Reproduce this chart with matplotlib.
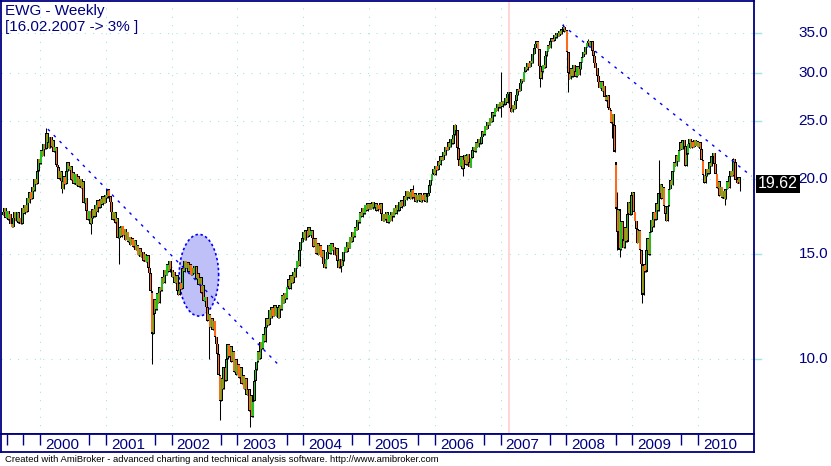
import numpy as np
import pandas as pd
import matplotlib
matplotlib.use("Agg")
import matplotlib.pyplot as plt
from matplotlib import transforms
from matplotlib.patches import Rectangle

# %% DATA - weekly closes of EWG, Fridays from 11.06.1999

c1999 = [17.6, 17.9, 17.2, 17.7, 17.1, 17.5, 16.8, 16.6, 17.2, 17.6,
         17.0, 17.6, 16.9, 17.2, 16.8, 17.9, 17.5, 18.1, 17.6, 18.6,
         18.2, 19.0, 18.5, 19.4, 19.1, 20.0, 19.6, 20.6, 21.6, 21.2]
c2000 = [22.3, 21.8, 22.9, 22.4, 23.8, 23.0, 22.5, 23.5, 22.6, 23.2,
         22.2, 22.6, 21.1, 20.9, 20.0, 20.6, 19.8, 19.2, 20.2, 19.6,
         20.6, 21.3, 20.7, 21.0, 19.9, 20.5, 19.6, 20.4, 19.5, 20.2,
         19.4, 20.0, 19.3, 19.8, 18.2, 18.6, 17.7, 17.1, 17.7, 16.8,
         17.2, 17.8, 17.3, 18.1, 17.6, 18.4, 17.9, 18.5, 18.1, 18.7,
         18.2, 18.8]
c2001 = [18.6, 19.2, 18.7, 18.3, 17.6, 17.1, 17.6, 16.9,
         17.2, 15.9, 16.6, 16.0, 16.7, 16.1, 16.5, 15.8, 16.3, 15.7,
         16.0, 15.5, 15.9, 15.4, 15.8, 15.2, 15.5, 14.9, 15.3, 14.8,
         15.1, 14.6, 15.0, 14.5, 14.9, 14.2, 13.9, 13.0, 11.0, 11.9,
         12.6, 12.1, 12.9, 12.4, 13.2, 13.0, 13.7, 13.4, 14.1, 13.8,
         14.4, 14.0, 14.6, 14.1]
c2002 = [13.7, 14.0, 13.4, 13.8, 13.0, 12.8,
         13.4, 13.1, 14.2, 14.0, 14.6, 14.2, 14.5, 14.0, 14.4, 13.8,
         14.2, 13.9, 14.3, 13.6, 13.9, 13.3, 13.7, 12.9, 13.3, 12.5,
         12.7, 12.2, 11.6, 11.9, 11.3, 11.7, 11.2, 11.6, 10.9, 10.6,
         10.2, 9.4, 8.5, 9.3, 8.9, 9.7, 9.2, 10.0, 10.6, 10.1,
         10.5, 9.9, 10.3, 9.5, 10.0, 9.4]
c2003 = [9.8, 9.3, 9.7, 9.1, 9.4, 8.9, 9.3, 8.7, 8.9, 8.2,
         8.7, 8.0, 8.5, 9.2, 9.6, 9.9, 10.3, 10.0, 10.7, 10.4,
         11.0, 10.7, 11.3, 11.7, 11.4, 12.1, 11.7, 12.2, 11.8, 12.3,
         11.8, 12.2, 11.7, 12.3, 12.1, 12.8, 12.4, 12.9, 12.6, 13.2,
         13.6, 13.1, 13.8, 13.4, 14.0, 13.7, 14.2, 14.6, 14.3, 15.2,
         15.7, 15.9]
c2004 = [16.3, 15.8, 16.4, 16.0, 16.6, 16.1, 16.4, 15.9,
         15.4, 15.9, 15.0, 15.6, 14.9, 15.5, 14.8, 15.2,
         14.4, 14.2, 14.7, 15.1,
         15.5, 15.0, 15.6, 15.2, 15.4, 14.9, 15.3,
         14.6, 14.2, 14.7, 14.3, 14.6, 15.1,
         15.4, 15.1, 15.7, 15.3, 16.0, 15.7, 16.3, 16.0, 16.6, 16.4,
         17.1, 16.9, 17.6, 17.3, 17.9, 17.5, 18.1, 17.7,
         18.2, 17.8]
c2005 = [18.2, 17.8, 18.3, 17.9, 18.2, 17.7, 18.1, 17.8, 18.2, 17.5,
         17.0, 17.5, 17.1, 17.6, 16.9, 17.4, 17.0, 17.6, 17.3, 17.9,
         17.5, 18.1, 17.7, 18.3, 17.9, 18.4, 18.0, 18.7, 18.4, 19.1,
         18.6, 19.0, 18.5, 19.2, 18.6, 18.9, 18.3, 18.8, 18.4, 18.9,
         18.3, 18.8, 18.4, 18.9, 18.3, 18.7, 18.9, 19.5, 19.9, 20.4,
         20.8, 20.3]
c2006 = [21.0, 20.7, 21.4, 21.1, 21.8, 21.5, 22.2, 21.9, 22.6, 22.3,
         23.0, 22.6, 23.3, 22.9, 23.7, 24.6, 24.1, 22.5, 21.5, 21.0,
         21.8, 20.8, 21.5, 21.9, 21.1, 22.0, 21.3, 20.9, 21.7, 22.3,
         22.6, 22.2, 23.0, 22.6, 23.3, 22.9, 23.5, 24.0, 23.7, 24.5,
         24.2, 24.9, 24.6, 25.3, 24.9, 25.8, 25.5, 26.3, 25.9, 26.7,
         26.3, 26.9]
c2007 = [26.4, 27.0, 26.6, 27.3, 26.8, 27.7, 27.9, 26.2, 25.8, 26.6,
         26.1, 27.0, 27.6, 28.2, 28.0, 28.9, 29.4, 29.1, 30.2, 30.7,
         30.4, 31.2, 30.7, 31.5, 31.2, 32.3, 33.0, 33.6, 33.9, 32.9,
         30.8, 29.4, 30.2, 31.0, 30.6, 32.1, 32.7, 33.4, 33.0, 33.9,
         34.3, 34.0, 34.8, 34.4, 35.0, 34.6, 35.3, 34.9, 35.5, 35.8,
         35.2, 35.4]
c2008 = [32.6, 30.0, 29.3, 30.6, 29.6, 31.0, 30.2, 29.6, 30.8, 29.8,
         30.5, 31.3, 31.9, 32.6, 32.3, 33.2, 33.7, 34.0, 33.3, 33.9,
         32.7, 32.1, 31.2, 30.6, 29.7, 29.0, 28.3, 29.1, 28.0, 28.6,
         27.4, 27.0, 27.6, 26.3, 26.0, 24.8, 25.7, 24.6, 22.2, 17.8,
         16.3, 17.8, 15.2, 17.0, 15.8, 15.3, 16.6, 15.7, 17.5, 18.3,
         17.4, 18.8]
c2009 = [19.0, 17.6, 17.0, 16.5, 15.6, 16.4, 15.2, 14.4, 12.8, 14.4,
         14.0, 15.2, 15.9, 14.9, 16.3, 17.1, 16.6, 17.6, 17.1, 18.2,
         17.7, 18.9, 19.6, 18.5, 19.4, 18.0, 17.5, 17.0, 18.0, 19.2,
         19.9, 19.5, 20.6, 21.3, 21.0, 21.9, 21.4, 22.3, 23.0, 22.4,
         23.2, 22.7, 21.0, 22.0, 22.9, 23.3, 22.5, 23.1, 22.6, 23.2,
         22.7, 23.1]
c2010 = [22.6, 23.0, 22.4, 21.5, 20.3, 19.7, 20.2, 20.8, 20.4, 21.3,
         21.0, 21.8, 22.1, 21.2, 20.4, 19.3, 19.8, 18.7, 19.4, 18.6,
         19.1, 18.5, 19.2, 19.8, 19.3, 20.2, 20.6, 20.2, 21.6, 21.3,
         19.9, 19.7, 20.1, 19.6, 19.62]

first_open = 17.4
gap_opens = {486: 21.3}                      # week index -> open
high_wicks = {34: 24.3, 325: 19.5, 358: 24.7, 395: 30.1, 444: 36.2,
              464: 34.2, 487: 19.0, 520: 21.5, 579: 21.7}
low_wicks = {47: 18.9, 70: 16.2, 92: 14.4, 118: 9.8, 163: 10.0, 172: 7.9,
             196: 7.7, 268: 14.0, 365: 20.2, 395: 25.4, 426: 28.5, 448: 27.9,
             483: 23.4, 487: 15.2, 489: 14.8, 507: 12.4, 572: 18.1, 584: 19.1}

price_ticks = [10, 15, 20, 25, 30, 35]
years = list(range(2000, 2011))
selected_date = "2007-02-16"

# trend lines (date, price) and highlighted ellipse (date range, price range)
trend1 = [("2000-02-14", 24.2), ("2003-08-25", 9.73)]
trend2 = [("2007-12-10", 36.1), ("2010-10-25", 20.2)]
ellipse_box = ("2002-02-12", "2002-09-19", 11.8, 16.15)


def frac_year(d):
    d = pd.to_datetime(d)
    ndays = np.where(d.is_leap_year, 366, 365)
    return d.year + (d.dayofyear - 1) / ndays


# %% BUILD OHLC

closes = np.array(c1999 + c2000 + c2001 + c2002 + c2003 + c2004 + c2005 +
                  c2006 + c2007 + c2008 + c2009 + c2010)
dates = pd.date_range("1999-06-11", periods=len(closes), freq="W-FRI")
t = np.asarray(frac_year(dates))

opens = np.r_[first_open, closes[:-1]]
for k, v in gap_opens.items():
    opens[k] = v
highs = np.maximum(opens, closes)
lows = np.minimum(opens, closes)
for k, v in high_wicks.items():
    highs[k] = max(highs[k], v)
for k, v in low_wicks.items():
    lows[k] = min(lows[k], v)

# %% FIGURE

W, H = 831, 466
navy = "#000080"
cyan = "#9fe3e3"
green = "#1fc01f"
orange = "#ff6a1a"
plt.rcParams["font.family"] = ["Liberation Sans", "DejaVu Sans"]

fig = plt.figure(figsize=(W / 100, H / 100), dpi=100)
ax = fig.add_axes([1 / W, 1 - 434 / H, 753 / W, 433 / H])
ax.set_yscale("log")
xmin, xmax = 2000 - 39 / 65.8, 2000 + 714 / 65.8
ax.set_xlim(xmin, xmax)
ax.set_ylim(7.50, 39.6)
ax.set_xticks([])
ax.set_yticks([])
ax.set_yticks([], minor=True)
for s in ax.spines.values():
    s.set_color(navy)
    s.set_linewidth(1.3)

# grid
for p in price_ticks:
    ax.axhline(p, color=cyan, lw=0.75, ls=(0, (1, 7)), zorder=1)
    ax.plot([1.0, 1.0 + 7 / 753], [p, p], color=cyan, lw=1,
            transform=transforms.blended_transform_factory(ax.transAxes, ax.transData),
            clip_on=False)
for y in years:
    ax.axvline(y, color=cyan, lw=0.75, ls=(0, (1, 7)), zorder=1)
ax.axvline(frac_year(pd.Timestamp(selected_date)), color="#ffd6d6", lw=1.5, zorder=1)

# highlighted ellipse (drawn in date / log-price space)
e_x0, e_x1 = frac_year(pd.Timestamp(ellipse_box[0])), frac_year(pd.Timestamp(ellipse_box[1]))
e_l0, e_l1 = np.log(ellipse_box[2]), np.log(ellipse_box[3])
th = np.linspace(0, 2 * np.pi, 200)
ex = (e_x0 + e_x1) / 2 + (e_x1 - e_x0) / 2 * np.cos(th)
ey = np.exp((e_l0 + e_l1) / 2 + (e_l1 - e_l0) / 2 * np.sin(th))
ax.fill(ex, ey, facecolor="#c0c0f8", edgecolor="none", zorder=2)
ax.plot(ex, ey, color="blue", lw=1.2, ls=(0, (1.5, 1.5)), zorder=2)

# candles: black wick + black body outline, coloured body core on top
px = 1 / 65.8                                  # one pixel in years
body_lo = np.minimum(opens, closes)
body_h = np.abs(closes - opens)
colors = np.where(closes >= opens, green, orange)
ax.vlines(t, lows, highs, color="black", lw=0.75, zorder=3)
ax.bar(t, body_h, bottom=body_lo, width=2.8 * px, color="black", zorder=4)
ax.bar(t, body_h * 0.9, bottom=body_lo * (1 + 0.05 * body_h / body_lo),
       width=1.2 * px, color=colors, zorder=5)

# trend lines
for tl in (trend1, trend2):
    tx = [frac_year(pd.Timestamp(d)) for d, _ in tl]
    ty = [p for _, p in tl]
    ax.plot(tx, ty, color="blue", lw=1, ls=(0, (2, 4)), zorder=6)

# %% TEXTS

fig.text(5 / W, 1 - 15 / H, "EWG - Weekly", color=navy, fontsize=11, va="baseline")
fig.text(5 / W, 1 - 31 / H, "[16.02.2007 -> 3% ]", color=navy, fontsize=11, va="baseline")
fig.text(5 / W, 1 - 462.5 / H,
         "Created with AmiBroker - advanced charting and technical analysis software. "
         "http://www.amibroker.com", color="black", fontsize=6.8, va="baseline")

for p in price_ticks:
    py = ax.transData.transform((xmin, p))[1] / H
    fig.text(828 / W, py, f"{p:.1f}", color=navy, fontsize=11, ha="right", va="center")

last = closes[-1]
ly = ax.transData.transform((xmin, last))[1]
fig.add_artist(Rectangle((756 / W, (ly - 9) / H), 44 / W, 18 / H,
                         facecolor="black", edgecolor="none", transform=fig.transFigure))
fig.text(778 / W, ly / H, f"{last:.2f}", color="white", fontsize=11.5, ha="center", va="center")

# date strip
axd = fig.add_axes([1 / W, 1 - 452 / H, 753 / W, 18 / H])
axd.set_xlim(xmin, xmax)
axd.set_ylim(0, 1)
axd.set_xticks([])
axd.set_yticks([])
for s in axd.spines.values():
    s.set_color(navy)
    s.set_linewidth(1.3)
minor = [1999.5] + [y + 273 / 365 for y in range(1999, 2010)]
axd.vlines(years + minor, 0.4, 1, color=navy, lw=1)
off = transforms.offset_copy(axd.transData, fig=fig, x=5, y=0, units="dots")
for y in years:
    axd.text(y, 0.19, str(y), color=navy, fontsize=11, ha="left", va="baseline",
             transform=off)

fig.savefig("out.png", dpi=100, facecolor="white")
